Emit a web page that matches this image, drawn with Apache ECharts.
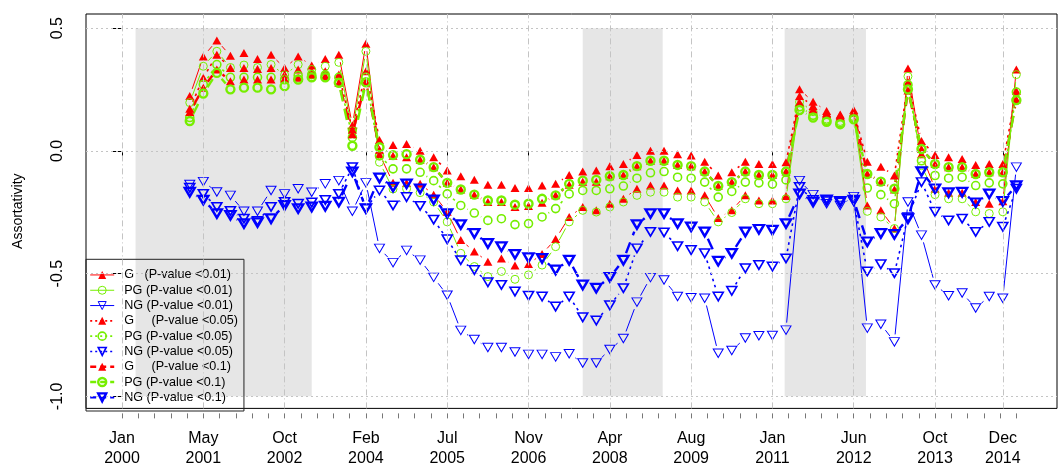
<!DOCTYPE html>
<html>
<head>
<meta charset="utf-8">
<script src="https://cdn.jsdelivr.net/npm/echarts@6/dist/echarts.min.js"></script>
<style>
  html, body { margin: 0; padding: 0; background: #fff; }
  #chart { width: 1058px; height: 468px; }
</style>
</head>
<body>
<div id="chart"></div>
<script>
// Sampling windows are numbered from Jan 2000 (index 0); the series start at window 5.
const FIRST_INDEX = 5;

// Labelled ticks on the time axis (window index) and their labels
const tickIndex = [0, 6, 12, 18, 24, 30, 36, 42, 48, 54, 60, 65];
const tickLabels = ['Jan\n2000', 'May\n2001', 'Oct\n2002', 'Feb\n2004', 'Jul\n2005', 'Nov\n2006',
                    'Apr\n2008', 'Aug\n2009', 'Jan\n2011', 'Jun\n2012', 'Oct\n2013', 'Dec\n2014'];
const yTicks = [-1, -0.5, 0, 0.5];

// Shaded periods, in window index
const shadedPeriods = [[1, 14], [34, 39.9], [48.9, 54.9]];

// Assortativity per window, windows 5 .. 66
const gP01 = [0.224, 0.385, 0.45, 0.388, 0.399, 0.375, 0.392, 0.338, 0.385, 0.348, 0.375, 0.392, 0.105, 0.437,
  -0.013, -0.13, -0.131, -0.134, -0.178, -0.248, -0.363, -0.41, -0.451, -0.438, -0.467, -0.461, -0.42, -0.359,
  -0.269, -0.228, -0.242, -0.215, -0.195, -0.154, -0.141, -0.141, -0.161, -0.161, -0.181, -0.273, -0.242, -0.181,
  -0.202, -0.202, -0.184, 0.251, 0.2, 0.163, 0.149, 0.167, -0.222, -0.242, -0.316, 0.336, -0.013, -0.154, -0.17,
  -0.17, -0.208, -0.215, -0.205, 0.332];
const pgP01 = [0.197, 0.345, 0.406, 0.34, 0.35, 0.34, 0.352, 0.31, 0.352, 0.332, 0.345, 0.361, 0.082, 0.406,
  -0.046, -0.155, -0.154, -0.17, -0.208, -0.289, -0.417, -0.471, -0.512, -0.491, -0.523, -0.505, -0.465, -0.39,
  -0.289, -0.242, -0.249, -0.228, -0.208, -0.181, -0.168, -0.168, -0.188, -0.188, -0.208, -0.289, -0.251, -0.195,
  -0.215, -0.215, -0.195, 0.2, 0.16, 0.13, 0.12, 0.14, -0.246, -0.269, -0.316, 0.304, -0.06, -0.178, -0.195,
  -0.195, -0.248, -0.255, -0.248, 0.311];
const ngP01 = [-0.137, -0.125, -0.167, -0.181, -0.246, -0.246, -0.161, -0.175, -0.154, -0.168, -0.134, -0.121, -0.246, -0.13,
  -0.397, -0.455, -0.405, -0.445, -0.515, -0.588, -0.731, -0.768, -0.801, -0.801, -0.819, -0.829, -0.829, -0.839,
  -0.826, -0.864, -0.864, -0.809, -0.764, -0.616, -0.516, -0.526, -0.593, -0.598, -0.6, -0.824, -0.813, -0.762,
  -0.753, -0.752, -0.73, -0.121, -0.178, -0.215, -0.222, -0.186, -0.722, -0.706, -0.778, -0.208, -0.343, -0.546, -0.59,
  -0.579, -0.64, -0.593, -0.6, -0.066];
const gP05 = [0.172, 0.298, 0.392, 0.338, 0.338, 0.334, 0.338, 0.311, 0.332, 0.325, 0.325, 0.311, 0.086, 0.325,
  0.045, 0.024, 0.028, 0.001, -0.026, -0.08, -0.103, -0.117, -0.138, -0.138, -0.151, -0.151, -0.141, -0.134,
  -0.098, -0.084, -0.08, -0.062, -0.053, -0.017, 0.001, 0.001, -0.013, -0.019, -0.044, -0.1, -0.087, -0.044,
  -0.053, -0.053, -0.046, 0.224, 0.183, 0.155, 0.145, 0.16, -0.044, -0.064, -0.1, 0.281, 0.041, -0.017, -0.026,
  -0.033, -0.057, -0.053, -0.053, 0.244];
const pgP05 = [0.136, 0.271, 0.352, 0.3, 0.3, 0.3, 0.3, 0.29, 0.307, 0.311, 0.31, 0.3, 0.055, 0.3,
  -0.02, -0.073, -0.073, -0.087, -0.121, -0.175, -0.222, -0.253, -0.283, -0.276, -0.3, -0.296, -0.269, -0.235,
  -0.175, -0.161, -0.161, -0.154, -0.143, -0.111, -0.089, -0.084, -0.107, -0.111, -0.127, -0.188, -0.165, -0.127,
  -0.13, -0.135, -0.118, 0.18, 0.145, 0.125, 0.115, 0.135, -0.151, -0.178, -0.215, 0.27, -0.04, -0.1, -0.111,
  -0.107, -0.141, -0.13, -0.134, 0.24];
const ngP05 = [-0.15, -0.175, -0.228, -0.245, -0.276, -0.285, -0.228, -0.208, -0.215, -0.21, -0.2, -0.175, -0.066, -0.235,
  -0.161, -0.222, -0.188, -0.224, -0.28, -0.36, -0.445, -0.485, -0.535, -0.546, -0.573, -0.59, -0.593, -0.634,
  -0.593, -0.678, -0.691, -0.629, -0.559, -0.397, -0.33, -0.332, -0.388, -0.404, -0.417, -0.593, -0.57, -0.478,
  -0.465, -0.471, -0.438, -0.147, -0.2, -0.205, -0.21, -0.205, -0.491, -0.462, -0.498, -0.27, -0.127, -0.248, -0.283,
  -0.276, -0.33, -0.289, -0.309, -0.154];
const gP1 = [0.159, 0.257, 0.332, 0.284, 0.291, 0.291, 0.291, 0.294, 0.298, 0.311, 0.305, 0.278, 0.068, 0.284,
  0.005, -0.02, -0.026, -0.036, -0.066, -0.13, -0.157, -0.178, -0.208, -0.208, -0.228, -0.224, -0.211, -0.181,
  -0.138, -0.125, -0.125, -0.103, -0.098, -0.062, -0.04, -0.04, -0.057, -0.062, -0.084, -0.143, -0.127, -0.084,
  -0.098, -0.098, -0.084, 0.197, 0.17, 0.15, 0.14, 0.155, -0.093, -0.125, -0.157, 0.246, 0.008, -0.053, -0.066,
  -0.066, -0.094, -0.087, -0.087, 0.21];
const pgP1 = [0.122, 0.234, 0.318, 0.251, 0.258, 0.258, 0.251, 0.264, 0.291, 0.3, 0.3, 0.278, 0.021, 0.28,
  0.015, -0.017, -0.013, -0.036, -0.066, -0.13, -0.157, -0.178, -0.202, -0.202, -0.219, -0.215, -0.195, -0.181,
  -0.134, -0.121, -0.118, -0.103, -0.098, -0.062, -0.04, -0.04, -0.057, -0.062, -0.084, -0.143, -0.127, -0.084,
  -0.098, -0.098, -0.084, 0.167, 0.136, 0.119, 0.109, 0.129, -0.094, -0.125, -0.154, 0.251, 0.008, -0.053, -0.066,
  -0.066, -0.094, -0.087, -0.087, 0.207];
const ngP1 = [-0.168, -0.2, -0.255, -0.262, -0.296, -0.292, -0.276, -0.222, -0.235, -0.228, -0.225, -0.208, -0.085, -0.235,
  -0.11, -0.147, -0.134, -0.154, -0.199, -0.255, -0.3, -0.336, -0.377, -0.39, -0.421, -0.435, -0.438, -0.485,
  -0.445, -0.546, -0.559, -0.515, -0.445, -0.3, -0.255, -0.255, -0.296, -0.309, -0.33, -0.449, -0.417, -0.33,
  -0.319, -0.323, -0.296, -0.175, -0.208, -0.199, -0.205, -0.2, -0.37, -0.336, -0.34, -0.276, -0.084, -0.154, -0.17,
  -0.168, -0.211, -0.175, -0.205, -0.141];

const RED = '#ff0000';
const GREEN = '#76ee00';
const BLUE = '#0000ff';
const FONT = '"Liberation Sans", Arial, Helvetica, sans-serif';

// Plot extent (window index / assortativity) covered by the frame
const X_MIN = -2.657, X_MAX = 69.0;
const Y_MIN = -1.049, Y_MAX = 0.558;
// Lines stop short of each marker, leaving this many pixels free at both ends
const GAP = 7.5;

const DASH = { solid: 'solid', dotted: [2, 3], dashed: [6, 4] };

const seriesDefs = [
  { name: 'G   (P-value <0.01)',   values: gP01,  kind: 'G',  color: RED,   width: 1,   dash: 'solid' },
  { name: 'PG (P-value <0.01)',    values: pgP01, kind: 'PG', color: GREEN, width: 1,   dash: 'solid' },
  { name: 'NG (P-value <0.01)',    values: ngP01, kind: 'NG', color: BLUE,  width: 1,   dash: 'solid' },
  { name: 'G     (P-value <0.05)', values: gP05,  kind: 'G',  color: RED,   width: 1.6, dash: 'dotted' },
  { name: 'PG (P-value <0.05)',    values: pgP05, kind: 'PG', color: GREEN, width: 1.6, dash: 'dotted' },
  { name: 'NG (P-value <0.05)',    values: ngP05, kind: 'NG', color: BLUE,  width: 1.6, dash: 'dotted' },
  { name: 'G     (P-value <0.1)',  values: gP1,   kind: 'G',  color: RED,   width: 2.4, dash: 'dashed' },
  { name: 'PG (P-value <0.1)',     values: pgP1,  kind: 'PG', color: GREEN, width: 2.4, dash: 'dashed' },
  { name: 'NG (P-value <0.1)',     values: ngP1,  kind: 'NG', color: BLUE,  width: 2.4, dash: 'dashed' }
];

function markerStyle(def) {
  if (def.kind === 'G') {
    return { symbol: 'triangle', size: [9, 8], rotate: 0,
             item: { color: def.color, borderWidth: 0 } };
  }
  if (def.kind === 'PG') {
    return { symbol: 'circle', size: 8, rotate: 0,
             item: { color: 'rgba(0,0,0,0)', borderColor: def.color, borderWidth: def.width } };
  }
  return { symbol: 'triangle', size: [10, 8.5], rotate: 180,
           item: { color: 'rgba(0,0,0,0)', borderColor: def.color, borderWidth: def.width } };
}

function dashFor(def) {
  const d = DASH[def.dash];
  return d === 'solid' ? null : d.map(v => v * Math.max(1, def.width * 0.8));
}

// Connecting segments between consecutive windows, trimmed around each marker
function linkSeries(def) {
  const pairs = [];
  for (let k = 0; k + 1 < def.values.length; k++) {
    pairs.push([FIRST_INDEX + k, def.values[k], FIRST_INDEX + k + 1, def.values[k + 1]]);
  }
  const lineDash = dashFor(def);
  return {
    type: 'custom',
    name: def.name + ' links',
    silent: true,
    animation: false,
    dimensions: ['x1', 'y1', 'x2', 'y2'],
    encode: { x: [0, 2], y: [1, 3] },
    data: pairs,
    renderItem(params, api) {
      const a = api.coord([api.value(0), api.value(1)]);
      const b = api.coord([api.value(2), api.value(3)]);
      const dx = b[0] - a[0], dy = b[1] - a[1];
      const len = Math.hypot(dx, dy);
      if (len <= 2 * GAP) return { type: 'group', children: [] };
      const f = GAP / len;
      return {
        type: 'line',
        shape: { x1: a[0] + dx * f, y1: a[1] + dy * f, x2: b[0] - dx * f, y2: b[1] - dy * f },
        style: { stroke: def.color, lineWidth: def.width, lineDash: lineDash, fill: null }
      };
    }
  };
}

function markerSeries(def) {
  const m = markerStyle(def);
  return {
    type: 'line',
    name: def.name,
    animation: false,
    data: def.values.map((v, k) => [FIRST_INDEX + k, v]),
    symbol: m.symbol,
    symbolSize: m.size,
    symbolRotate: m.rotate,
    showSymbol: true,
    showAllSymbol: true,
    lineStyle: { color: def.color, width: def.width, type: DASH[def.dash], opacity: 0 },
    itemStyle: m.item,
    emphasis: { disabled: true }
  };
}

const minorTicks = [];
for (let v = 0; v <= 66.01; v += 1.2) minorTicks.push(+v.toFixed(2));

const series = [];

// Shaded periods
series.push({
  type: 'line', name: 'periods', data: [], silent: true, animation: false, z: 1,
  markArea: {
    silent: true,
    itemStyle: { color: '#e6e6e6' },
    data: shadedPeriods.map(p => [{ xAxis: p[0], yAxis: 0.5 }, { xAxis: p[1], yAxis: -1 }])
  }
});

// Reference lines at the labelled ticks
series.push({
  type: 'line', name: 'guides', data: [], silent: true, animation: false, z: 1,
  markLine: {
    silent: true, symbol: 'none', label: { show: false }, animation: false,
    data: yTicks.map(v => ({ yAxis: v, lineStyle: { color: '#c4c4c4', width: 1, type: [2, 3] } }))
      .concat(tickIndex.map(v => ({ xAxis: v, lineStyle: { color: '#c4c4c4', width: 1, type: [6, 3, 1, 3] } })))
  }
});

seriesDefs.forEach(def => {
  series.push(linkSeries(def));
  series.push(markerSeries(def));
});

const legendData = seriesDefs.map(def => {
  const m = markerStyle(def);
  return {
    name: def.name,
    itemStyle: Object.assign({ opacity: 1 }, m.item, def.kind === 'G' ? { borderColor: def.color, borderWidth: 0 } : {}),
    lineStyle: { color: def.color, width: def.width, type: DASH[def.dash], opacity: 1 }
  };
});

const chart = echarts.init(document.getElementById('chart'), null, { renderer: 'canvas' });
chart.setOption({
  animation: false,
  textStyle: { fontFamily: FONT },
  grid: {
    left: 86, right: 1, top: 14, bottom: 57,
    show: true, borderColor: '#000', borderWidth: 1, backgroundColor: 'transparent'
  },
  xAxis: [
    {
      type: 'value', min: X_MIN, max: X_MAX, position: 'bottom', offset: 5,
      axisLine: { show: false }, splitLine: { show: false },
      axisTick: { show: true, customValues: tickIndex, length: 6, lineStyle: { color: '#000', width: 1 } },
      axisLabel: {
        show: true, customValues: tickIndex, margin: 16,
        formatter: v => tickLabels[tickIndex.indexOf(v)] || '',
        fontSize: 16, lineHeight: 19.3, color: '#000', fontFamily: FONT
      }
    },
    {
      type: 'value', min: X_MIN, max: X_MAX, position: 'bottom', offset: 5,
      axisLine: { show: false }, splitLine: { show: false }, axisLabel: { show: false },
      axisTick: { show: true, customValues: minorTicks, length: 5, lineStyle: { color: '#777', width: 1 } }
    }
  ],
  yAxis: {
    type: 'value', min: Y_MIN, max: Y_MAX,
    axisLine: { show: false }, splitLine: { show: false },
    axisTick: { show: true, customValues: yTicks, length: 9, lineStyle: { color: '#000', width: 1 } },
    axisLabel: {
      show: true, customValues: yTicks, rotate: 90, margin: 20,
      formatter: v => v.toFixed(1), fontSize: 16, color: '#000', fontFamily: FONT
    },
    name: 'Assortativity', nameLocation: 'middle', nameRotate: 90, nameGap: 61,
    nameTextStyle: { fontSize: 14, color: '#000', fontFamily: FONT }
  },
  legend: {
    show: true, orient: 'vertical', left: 86, bottom: 57,
    padding: [8, 6, 6, 3], itemGap: 0, itemWidth: 24, itemHeight: 10,
    borderColor: '#222', borderWidth: 1, borderRadius: 0,
    selectedMode: false,
    textStyle: { fontSize: 12.6, lineHeight: 15.3, color: '#000', fontFamily: FONT, padding: [0, 0, 0, 5] },
    data: legendData
  },
  series: series
});
</script>
</body>
</html>
